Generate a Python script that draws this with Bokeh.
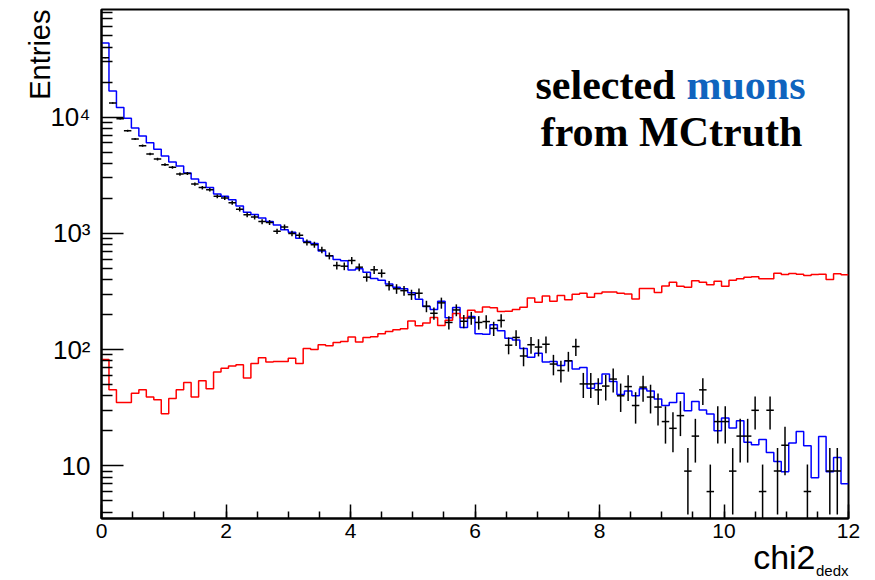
import numpy as np
from bokeh.plotting import figure
from bokeh.models import FixedTicker, Label, Range1d, Title
from bokeh.embed import file_html
from bokeh.resources import INLINE

# ---------------- data ----------------
bin_width = 0.12
n_bins = 100

# blue histogram: MC muons
mc_muons = [43400, 16700, 12100, 9750, 8050, 6870, 6010, 5270, 4620, 4100,
            3790, 3300, 2930, 2740, 2470, 2180, 2080, 1940, 1720, 1520,
            1450, 1350, 1260, 1180, 1070, 1020, 905, 850, 815, 705,
            640, 595, 580, 482, 495, 462, 408, 395, 367, 344,
            333, 308, 271, 234, 221, 260, 188, 230, 155, 192,
            137, 135, 163, 145, 125, 121, 102, 86, 93, 78,
            79, 73, 80, 68, 70, 46.5, 51, 61.5, 53, 41,
            44, 40, 46, 44, 37.5, 33, 35, 42, 29.8, 35.8,
            30.2, 27.9, 20, 25.8, 21.1, 24.4, 15.9, 15.2, 16.8, 13,
            10.9, 8.9, 15.7, 19.7, 14.9, 7.9, 17.9, 8.9, 11.8, 7.0]

# black points: data (nan = empty bin)
nan = float("nan")
data_muons = [32400, 13200, 9680, 7630, 6470, 5670, 4800, 4350, 3890, 3690,
              3230, 3270, 2650, 2470, 2370, 2080, 2010, 1830, 1610, 1440,
              1380, 1260, 1240, 1040, 1130, 996, 960, 834, 798, 718,
              640, 528, 521, 583, 511, 419, 485, 453, 355, 333,
              321, 297, 305, 236, 205, 252, 171, 219, 175, 187,
              171, 174, 152, 178, 109, 127, 88, 110, 105, 111,
              75, 66, 80, 106, 50.6, 50.6, 45, 48.5, 55.7, 40,
              48, 33, 47.5, 39, 32, 24, 21, 27, 9, 18,
              45, 6, 24, 24, 9, 18, 18, 30, 6, 30,
              9, 15, nan, nan, 6, nan, nan, 9, 9, nan]
data_scale = 3.0  # weight per entry of the black points

# red histogram: MC non-muons
mc_other = [82, 45, 35, 35, 42, 45, 39, 37, 28, 38,
            45, 52, 39, 54, 46, 64, 69, 72, 74, 57,
            76, 85, 78, 79, 79, 84, 76, 102, 100, 110,
            108, 115, 117, 128, 116, 127, 129, 137, 143, 148,
            151, 176, 160, 169, 189, 161, 179, 204, 187, 218,
            210, 232, 229, 212, 213, 221, 231, 277, 255, 289,
            260, 291, 268, 299, 305, 282, 303, 312, 312, 305,
            301, 272, 335, 335, 310, 352, 379, 350, 344, 390,
            379, 360, 386, 350, 395, 406, 419, 422, 406, 406,
            453, 442, 450, 445, 434, 442, 445, 400, 448, 439]

x_ticks = [0, 2, 4, 6, 8, 10, 12]
y_ticks = [10, 100, 1000, 10000]
y_tick_labels = {10: "10", 100: "10\u00b2", 1000: "10\u00b3", 10000: "10\u2074"}

# ---------------- figure ----------------
p = figure(width=875, height=580, y_axis_type="log",
           x_range=Range1d(0, 12), y_range=Range1d(3.52, 84100),
           output_backend="svg", toolbar_location=None,
           min_border_left=101, min_border_right=27,
           min_border_top=9, min_border_bottom=62)
p.background_fill_color = "white"
p.border_fill_color = "white"
p.grid.visible = False
p.outline_line_color = "black"
p.outline_line_width = 2

edges = np.arange(n_bins + 1) * bin_width
centers = 0.5 * (edges[:-1] + edges[1:])
xs = np.repeat(edges, 2)[1:-1]

p.line(xs, np.repeat(np.array(mc_muons, float), 2), line_color="#0000ff", line_width=1.5)
p.line(xs, np.repeat(np.array(mc_other, float), 2), line_color="#ff0000", line_width=1.5)

d = np.array(data_muons, float)
m = ~np.isnan(d)
err = np.sqrt(data_scale * d[m])
p.segment(x0=centers[m], y0=np.maximum(d[m] - err, 1e-3), x1=centers[m], y1=d[m] + err,
          line_color="black", line_width=1.5)
p.segment(x0=edges[:-1][m], y0=d[m], x1=edges[1:][m], y1=d[m],
          line_color="black", line_width=1.5)

# axes
minor_x = [i * 0.5 for i in range(25)]
p.xaxis.ticker = FixedTicker(ticks=x_ticks, minor_ticks=minor_x)
minor_y = [k * 10 ** e for e in range(0, 5) for k in range(2, 10) if 3.52 < k * 10 ** e < 84100]
p.yaxis.ticker = FixedTicker(ticks=y_ticks, minor_ticks=minor_y)
p.yaxis.major_label_overrides = y_tick_labels

for ax in (p.xaxis[0], p.yaxis[0]):
    ax.axis_line_color = "black"
    ax.axis_line_width = 2
    ax.major_tick_line_color = "black"
    ax.minor_tick_line_color = "black"
    ax.major_tick_line_width = 1.5
    ax.minor_tick_line_width = 1.5
    ax.major_tick_out = 0
    ax.minor_tick_out = 0
    ax.major_label_text_font = "Liberation Sans"
    ax.major_label_text_color = "black"
    ax.axis_label = None

p.xaxis.major_tick_in = 14
p.xaxis.minor_tick_in = 7
p.yaxis.major_tick_in = 22
p.yaxis.minor_tick_in = 11
p.xaxis.major_label_text_font_size = "21px"
p.yaxis.major_label_text_font_size = "26px"
p.xaxis.major_label_standoff = 5
p.yaxis.major_label_standoff = 11

# y-axis title, at the top end of the axis
p.add_layout(Title(text="Entries", align="right", text_font="Liberation Sans",
                   text_font_style="normal", text_font_size="29px",
                   text_color="black", standoff=-16), "left")

# x-axis title "chi2" with subscript "dedx", at the right end of the axis
p.add_layout(Title(text="chi2", align="right", offset=33, vertical_align="bottom",
                   text_font="Liberation Sans", text_font_style="normal",
                   text_font_size="34px", text_color="black", standoff=-7.6), "below")
p.add_layout(Title(text="dedx", align="right", offset=0, vertical_align="top",
                   text_font="Liberation Sans", text_font_style="normal",
                   text_font_size="15px", text_color="black", standoff=-21), "below")

# title text inside the frame
p.add_layout(Label(x=434, y=434, x_units="screen", y_units="screen", text="selected",
                   text_align="left", text_baseline="alphabetic",
                   text_font="Liberation Serif", text_font_style="bold",
                   text_font_size="42px", text_color="black"))
p.add_layout(Label(x=585, y=434, x_units="screen", y_units="screen", text="muons",
                   text_align="left", text_baseline="alphabetic",
                   text_font="Liberation Serif", text_font_style="bold",
                   text_font_size="42px", text_color="#0f64be"))
p.add_layout(Label(x=570, y=387, x_units="screen", y_units="screen", text="from MCtruth",
                   text_align="center", text_baseline="alphabetic",
                   text_font="Liberation Serif", text_font_style="bold",
                   text_font_size="42px", text_color="black"))

open("out.html", "w").write(file_html(p, INLINE))
